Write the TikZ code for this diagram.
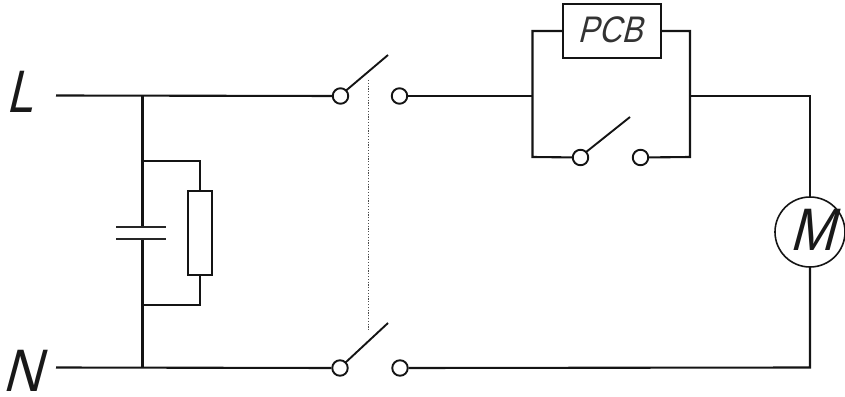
\documentclass[tikz,border=0pt]{standalone}
\usepackage{fontspec}
\setmainfont{Liberation Sans}
\newfontfamily\slantfont[FakeSlant=0.3]{Liberation Sans}
\tikzset{
  wire/.style={line width=2.1pt,draw=black!92,line join=miter},
  contact/.style={circle,draw=black!92,fill=white,line width=1.9pt,minimum size=15.5pt,inner sep=0pt},
  blade/.style={line width=1.9pt,draw=black!92},
  bigletter/.style={inner sep=0pt,font=\slantfont\fontsize{60}{60}\selectfont,text=black!90},
  compbox/.style={draw=black!92,fill=white,rectangle,inner sep=0pt,line width=2.1pt}
}
\begin{document}
\begin{tikzpicture}[x=1pt,y=-1pt]
\useasboundingbox (0,0) rectangle (845,396);
% terminals
\coordinate (lstart) at (56,95.5);
\coordinate (nstart) at (56,367.5);
\coordinate (ljun) at (142.5,95.5);
\coordinate (njun) at (142.5,367.5);
\coordinate (rtop) at (142.5,161);
\coordinate (rbot) at (142.5,305);
\coordinate (rtopc) at (200,161);
\coordinate (rbotc) at (200,305);
\coordinate (captop) at (142.5,227);
\coordinate (capbot) at (142.5,239);
\coordinate (capa) at (116,227);
\coordinate (capb) at (166,227);
\coordinate (capc) at (116,239);
\coordinate (capd) at (166,239);
\coordinate (pl) at (532.5,96);
\coordinate (pr) at (690,96);
\coordinate (pltop) at (532.5,31);
\coordinate (prtop) at (690,31);
\coordinate (plbot) at (532.5,157);
\coordinate (prbot) at (690,157);
\coordinate (mtop) at (810,96);
\coordinate (mbot) at (810,367.5);
\coordinate (blade1) at (388,55);
\coordinate (blade2) at (388,323);
\coordinate (blade3) at (630,117);
\coordinate (linka) at (368,80);
\coordinate (linkb) at (368,331);
% components
\node[compbox,minimum width=98pt,minimum height=54pt] (pcb) at (612,31) {};
\node[inner sep=0pt,font=\slantfont\fontsize{37}{37}\selectfont,text=black!80,xscale=.85] (pcbt) at (610,29.5) {PCB};
\node[compbox,minimum width=24pt,minimum height=84pt] (res) at (200,233) {};
\node[contact] (s1a) at (340.5,96) {};
\node[contact] (s1b) at (399.5,96) {};
\node[contact] (s2a) at (340,368) {};
\node[contact] (s2b) at (400,368) {};
\node[contact] (s3a) at (580.5,157.5) {};
\node[contact] (s3b) at (640.5,157.5) {};
\node[circle,draw=black!92,fill=white,line width=1.6pt,minimum size=70pt,inner sep=0pt] (motor) at (810,232) {};
\node[bigletter,xscale=.9] (mt) at (812,230) {M};
\node[bigletter,xscale=.8] (lab) at (20,92) {L};
\node[bigletter,xscale=.9] (nab) at (22,371) {N};
% wiring
\draw[wire] (lstart) -- (s1a);
\draw[wire] (nstart) -- (s2a);
\draw[wire] (ljun) -- (captop);
\draw[wire] (capbot) -- (njun);
\draw[wire] (rtop) -- (rtopc) -- (res.north);
\draw[wire] (rbot) -- (rbotc) -- (res.south);
\draw[line width=2.5pt,draw=black!85] (capa) -- (capb);
\draw[line width=2.1pt,draw=black!85] (capc) -- (capd);
\draw[wire] (s1b) -- (pl);
\draw[wire] (pcb.west |- pltop) -- (pltop) -- (plbot) -- (s3a);
\draw[wire] (pcb.east |- prtop) -- (prtop) -- (prbot) -- (s3b);
\draw[wire] (pr) -- (mtop) -- (motor.north);
\draw[wire] (motor.south) -- (mbot) -- (s2b);
\draw[blade] (s1a) ++(5,-5) -- (blade1);
\draw[blade] (s2a) ++(5,-5) -- (blade2);
\draw[blade] (s3a) ++(5,-5) -- (blade3);
\draw[line width=1pt,draw=black!70,dash pattern=on 1.2pt off 1.6pt] (linka) -- (linkb);
\end{tikzpicture}
\end{document}
